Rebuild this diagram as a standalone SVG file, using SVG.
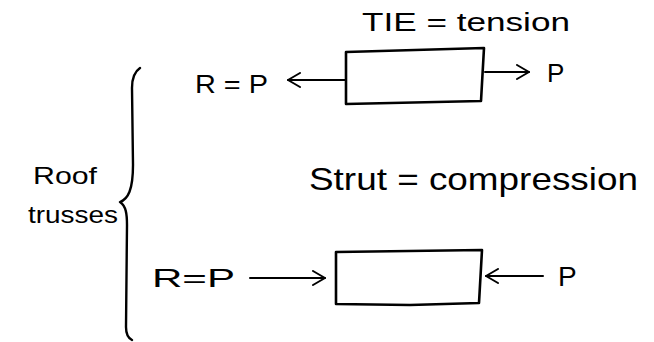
<svg xmlns="http://www.w3.org/2000/svg" width="654" height="342" viewBox="0 0 654 342">
<style>
  .t { font-family: "Liberation Sans", Arial, sans-serif; fill: #000; }
  .box { fill: none; stroke: #000; stroke-width: 2.6; stroke-linejoin: round; }
  .ln { fill: none; stroke: #000; stroke-width: 2; stroke-linecap: round; }
  .br { fill: none; stroke: #000; stroke-width: 2.4; stroke-linecap: round; stroke-linejoin: round; }
</style>
<defs>
  <marker id="ah" viewBox="0 0 14 16" refX="13" refY="8" markerWidth="14" markerHeight="16" markerUnits="userSpaceOnUse" orient="auto">
    <path d="M1,1 L13,8 L1,15" fill="none" stroke="#000" stroke-width="2" stroke-linecap="round" stroke-linejoin="round"/>
  </marker>
</defs>
<rect width="654" height="342" fill="#fff"/>

<g id="title-tie">
  <text class="t" x="362" y="31" font-size="26" textLength="208" lengthAdjust="spacingAndGlyphs">TIE = tension</text>
</g>

<g id="tie-box">
  <path class="box" d="M346,52 L484,48 L481,101 L346,104 Z"/>
</g>
<g id="tie-left-label">
  <text class="t" x="195" y="93" font-size="25" textLength="73" lengthAdjust="spacingAndGlyphs">R = P</text>
</g>
<g id="tie-right-label">
  <text class="t" x="547" y="82" font-size="26">P</text>
</g>

<g id="roof-label">
  <text class="t" x="33" y="184" font-size="24" textLength="64" lengthAdjust="spacingAndGlyphs">Roof</text>
  <text class="t" x="28" y="223" font-size="24" textLength="90" lengthAdjust="spacingAndGlyphs">trusses</text>
</g>

<g id="brace">
  <path class="br" d="M140,68 C134,72 132,78 132,88 L133,165 C133,190 128,199 120,202 C126,206 127,214 127,225 L126,327 C126,334 128,338 132,340"/>
</g>

<g id="title-strut">
  <text class="t" x="309" y="190" font-size="32" textLength="329" lengthAdjust="spacingAndGlyphs">Strut = compression</text>
</g>

<g id="strut-box">
  <path class="box" d="M336,252 L482,250 L479,303 L410,305 L336,304 Z"/>
</g>
<g id="strut-left-label">
  <text class="t" x="152" y="287" font-size="26" textLength="83" lengthAdjust="spacingAndGlyphs">R=P</text>
</g>
<g id="strut-right-label">
  <text class="t" x="558" y="286" font-size="28">P</text>
</g>

<g id="connectors">
  <line class="ln" x1="346" y1="80" x2="288" y2="80" marker-end="url(#ah)"/>
  <line class="ln" x1="485" y1="72" x2="529" y2="72" marker-end="url(#ah)"/>
  <line class="ln" x1="250" y1="278" x2="325" y2="278" marker-end="url(#ah)"/>
  <line class="ln" x1="543" y1="276" x2="486" y2="276" marker-end="url(#ah)"/>
</g>
</svg>
